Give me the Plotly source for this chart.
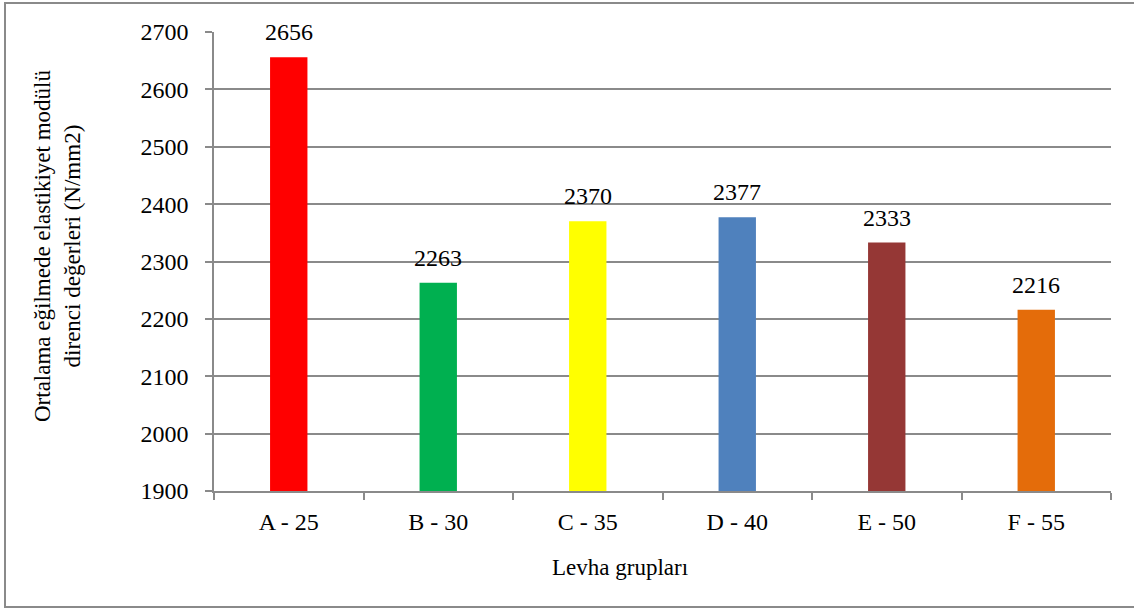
import plotly.graph_objects as go

groups = ["A - 25", "B - 30", "C - 35", "D - 40", "E - 50", "F - 55"]
values = [2656, 2263, 2370, 2377, 2333, 2216]
colors = ["#FF0000", "#00B050", "#FFFF00", "#4F81BD", "#953735", "#E46C0A"]
y_ticks = [1900, 2000, 2100, 2200, 2300, 2400, 2500, 2600, 2700]

FONT = "Liberation Serif, Times New Roman, serif"
GRAY = "#8a8a8a"
TICK_SIZE = 24
TITLE_SIZE = 23

W, H = 1134, 610
L, R, T, B = 214, 23, 32, 119
pw, ph = W - L - R, H - T - B


def px_x(x):
    return (x - L) / pw


def px_y(y):
    return (H - B - y) / ph


fig = go.Figure(
    go.Bar(
        x=groups,
        y=values,
        marker=dict(color=colors, line=dict(width=0)),
        width=0.25,
        hoverinfo="x+y",
    )
)

# value labels above each bar
for g, v in zip(groups, values):
    fig.add_annotation(
        x=g, y=v, text=str(v), showarrow=False,
        yanchor="bottom", yshift=10,
        font=dict(family=FONT, size=TICK_SIZE, color="black"),
    )

# axis titles
fig.add_annotation(
    x=px_x(57), y=px_y(246), xref="paper", yref="paper",
    xanchor="center", yanchor="middle",
    text="Ortalama eğilmede elastikiyet modülü<br>direnci değerleri (N/mm2)",
    textangle=-90, showarrow=False, align="center",
    font=dict(family=FONT, size=TITLE_SIZE, color="black"),
)
fig.add_annotation(
    x=px_x(620), y=px_y(567), xref="paper", yref="paper",
    xanchor="center", yanchor="middle",
    text="Levha grupları", showarrow=False,
    font=dict(family=FONT, size=TITLE_SIZE, color="black"),
)

# outer chart border
fig.add_shape(
    type="rect", xref="paper", yref="paper",
    x0=px_x(5), x1=px_x(1140), y0=px_y(607), y1=px_y(3),
    line=dict(color=GRAY, width=2), fillcolor="rgba(0,0,0,0)", layer="below",
)

fig.update_layout(
    width=W, height=H,
    margin=dict(l=L, r=R, t=T, b=B),
    paper_bgcolor="white", plot_bgcolor="white",
    showlegend=False,
    font=dict(family=FONT, size=TICK_SIZE, color="black"),
    xaxis=dict(
        type="category",
        showline=True, linecolor=GRAY, linewidth=1.5,
        ticks="outside", tickson="boundaries", ticklen=7,
        tickcolor=GRAY, tickwidth=1.5,
        ticklabelstandoff=8,
        showgrid=False,
        tickfont=dict(family=FONT, size=TICK_SIZE, color="black"),
    ),
    yaxis=dict(
        range=[1900, 2700],
        tickvals=y_ticks,
        showline=True, linecolor=GRAY, linewidth=1.5,
        ticks="outside", ticklen=7, tickcolor=GRAY, tickwidth=1.5,
        ticklabelstandoff=12,
        showgrid=True, gridcolor=GRAY, gridwidth=1.5,
        zeroline=False,
        tickfont=dict(family=FONT, size=TICK_SIZE, color="black"),
    ),
)

fig.write_html("out.html")
